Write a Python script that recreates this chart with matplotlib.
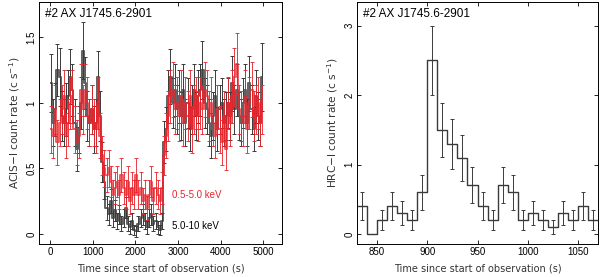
import numpy as np
import matplotlib
matplotlib.use('Agg')
import matplotlib.pyplot as plt

plt.rcParams['font.family'] = ['Liberation Sans', 'DejaVu Sans']

# ACIS-I light curve, 50 s bins
t_acis = np.arange(25, 5000, 50)
hard = [1.15, 0.85, 0.95, 1.25, 1.2, 0.9, 0.85, 0.95, 1.05, 1.2,
        1.1, 0.85, 0.65, 0.8, 1.0, 1.4, 1.15, 0.9, 0.85, 0.95,
        0.8, 0.85, 1.2, 0.9, 0.55, 0.4, 0.2, 0.15, 0.25, 0.12,
        0.18, 0.1, 0.15, 0.08, 0.12, 0.2, 0.08, 0.05, 0.1, 0.03,
        0.02, 0.08, 0.12, 0.15, 0.1, 0.05, 0.12, 0.15, 0.08, 0.1,
        0.05, 0.03, 0.1, 0.7, 0.8, 1.05, 1.2, 1.0, 1.1, 0.95,
        1.05, 0.9, 1.1, 0.85, 1.0, 0.8, 0.95, 1.1, 0.9, 1.05,
        1.1, 1.25, 1.0, 0.95, 0.85, 0.75, 0.9, 1.05, 0.8, 0.95,
        1.0, 0.85, 0.9, 1.0, 0.9, 1.15, 0.95, 1.1, 0.9, 0.85,
        1.0, 1.1, 0.85, 1.15, 0.95, 0.8, 1.05, 0.9, 0.85, 1.2]
hard_err = [0.22, 0.18, 0.2, 0.2, 0.22, 0.19, 0.18, 0.2, 0.2, 0.21,
            0.2, 0.18, 0.17, 0.18, 0.2, 0.22, 0.2, 0.19, 0.18, 0.19,
            0.18, 0.18, 0.2, 0.19, 0.15, 0.13, 0.09, 0.08, 0.09, 0.07,
            0.08, 0.06, 0.07, 0.06, 0.07, 0.08, 0.06, 0.05, 0.06, 0.04,
            0.04, 0.06, 0.07, 0.08, 0.06, 0.05, 0.07, 0.08, 0.06, 0.06,
            0.05, 0.04, 0.06, 0.16, 0.17, 0.2, 0.21, 0.19, 0.2, 0.19,
            0.2, 0.18, 0.2, 0.18, 0.19, 0.17, 0.19, 0.2, 0.18, 0.2,
            0.2, 0.22, 0.19, 0.19, 0.18, 0.17, 0.18, 0.2, 0.17, 0.19,
            0.19, 0.18, 0.18, 0.19, 0.18, 0.21, 0.19, 0.2, 0.18, 0.18,
            0.19, 0.2, 0.18, 0.21, 0.19, 0.17, 0.2, 0.18, 0.18, 0.26]
soft = [0.8, 0.75, 0.95, 0.7, 0.85, 0.95, 1.05, 0.75, 0.85, 1.0,
        1.05, 0.8, 0.7, 0.75, 1.1, 0.95, 1.1, 1.0, 0.85, 0.95,
        0.85, 0.8, 1.0, 0.75, 0.6, 0.5, 0.45, 0.5, 0.4, 0.3,
        0.35, 0.4, 0.3, 0.45, 0.35, 0.3, 0.4, 0.25, 0.35, 0.3,
        0.45, 0.3, 0.35, 0.25, 0.3, 0.2, 0.3, 0.4, 0.25, 0.35,
        0.3, 0.25, 0.35, 0.6, 0.75, 0.9, 1.05, 1.1, 0.95, 1.0,
        0.9, 1.05, 0.85, 1.0, 0.9, 1.05, 0.8, 0.95, 1.0, 0.9,
        1.0, 0.95, 1.1, 1.05, 0.9, 1.0, 0.85, 0.75, 0.95, 0.8,
        0.7, 0.9, 0.65, 1.0, 0.85, 1.05, 1.2, 1.3, 0.95, 0.9,
        0.85, 1.05, 0.8, 1.0, 1.1, 0.9, 0.95, 1.0, 0.85, 0.95]
soft_err = [0.18, 0.17, 0.19, 0.17, 0.18, 0.19, 0.2, 0.17, 0.18, 0.2,
            0.2, 0.18, 0.17, 0.17, 0.2, 0.19, 0.2, 0.2, 0.18, 0.19,
            0.18, 0.18, 0.2, 0.17, 0.15, 0.14, 0.13, 0.14, 0.12, 0.11,
            0.12, 0.12, 0.11, 0.13, 0.12, 0.11, 0.12, 0.1, 0.12, 0.11,
            0.13, 0.11, 0.12, 0.1, 0.11, 0.09, 0.11, 0.12, 0.1, 0.12,
            0.11, 0.1, 0.12, 0.15, 0.17, 0.19, 0.2, 0.21, 0.19, 0.2,
            0.19, 0.2, 0.18, 0.2, 0.19, 0.2, 0.18, 0.19, 0.2, 0.19,
            0.2, 0.19, 0.21, 0.2, 0.19, 0.2, 0.18, 0.17, 0.19, 0.18,
            0.17, 0.19, 0.16, 0.2, 0.18, 0.2, 0.22, 0.23, 0.19, 0.19,
            0.18, 0.2, 0.18, 0.2, 0.21, 0.19, 0.19, 0.2, 0.18, 0.19]

# HRC-I light curve, 10 s bins
t_hrc = np.arange(835, 1070, 10)
hrc = [0.4, 0.0, 0.2, 0.4, 0.3, 0.2, 0.6, 2.5, 1.5, 1.3, 1.1, 0.7,
       0.4, 0.2, 0.7, 0.6, 0.2, 0.3, 0.2, 0.1, 0.3, 0.2, 0.4, 0.2]
hrc_err = [0.2, 0.0, 0.14, 0.2, 0.17, 0.14, 0.25, 0.5, 0.39, 0.36, 0.33, 0.26,
           0.2, 0.14, 0.26, 0.25, 0.14, 0.17, 0.14, 0.1, 0.17, 0.14, 0.2, 0.14]

fig = plt.figure(figsize=(6, 2.77), dpi=100)
ax1 = fig.add_axes([39/600, 33/277, 243/600, 242/277])
ax2 = fig.add_axes([357/600, 33/277, 241/600, 242/277])

red = '#e8262e'
dark = '#3a3a3a'
lab_font = dict(family='DejaVu Sans', fontsize=7, color='#333333')
ylab_font = dict(family='DejaVu Sans', fontsize=7.6, color='#333333')

ax1.step(t_acis, hard, where='mid', color=dark, lw=1.4, alpha=0.8)
ax1.errorbar(t_acis, hard, yerr=hard_err, fmt='none', ecolor=dark, elinewidth=0.7,
             capsize=1.2, capthick=0.7)
ax1.step(t_acis, soft, where='mid', color=red, lw=1.4, alpha=0.75)
ax1.errorbar(t_acis, soft, yerr=soft_err, fmt='none', ecolor=red, elinewidth=0.7,
             capsize=1.2, capthick=0.7, alpha=0.9)
ax1.set_xlim(-258, 5440)
ax1.set_ylim(-0.076, 1.77)
ax1.set_xticks([0, 1000, 2000, 3000, 4000, 5000])
ax1.set_yticks([0, 0.5, 1, 1.5])
ax1.set_yticklabels(['0', '0.5', '1', '1.5'])
ax1.set_ylabel('ACIS\u2212I count rate (c s$^{-1}$)', labelpad=3, **ylab_font)
ax1.set_xlabel('Time since start of observation (s)', labelpad=5, **lab_font)
ax1.text(0.025, 0.975, '#2 AX J1745.6-2901', transform=ax1.transAxes,
         fontsize=8.5, va='top', ha='left')
ax1.text(2870, 0.3, '0.5-5.0 keV', color=red, fontsize=7, va='center')
ax1.text(2870, 0.06, '5.0-10 keV', color='black', fontsize=7, va='center')

ax2.step(t_hrc, hrc, where='mid', color=dark, lw=1.0)
ax2.plot([t_hrc[0] - 5, t_hrc[0]], [hrc[0], hrc[0]], color=dark, lw=1.0)
ax2.plot([t_hrc[-1], t_hrc[-1] + 5], [hrc[-1], hrc[-1]], color=dark, lw=1.0)
ax2.errorbar(t_hrc[np.array(hrc) > 0], np.array(hrc)[np.array(hrc) > 0],
             yerr=np.array(hrc_err)[np.array(hrc) > 0], fmt='none', ecolor=dark,
             elinewidth=0.7, capsize=1.5, capthick=0.7)
ax2.set_xlim(830, 1070)
ax2.set_ylim(-0.144, 3.34)
ax2.set_xticks([850, 900, 950, 1000, 1050])
ax2.set_yticks([0, 1, 2, 3])
ax2.set_ylabel('HRC\u2212I count rate (c s$^{-1}$)', labelpad=3, **ylab_font)
ax2.set_xlabel('Time since start of observation (s)', labelpad=5, **lab_font)
ax2.text(0.025, 0.975, '#2 AX J1745.6-2901', transform=ax2.transAxes,
         fontsize=8.5, va='top', ha='left')

for ax in (ax1, ax2):
    ax.tick_params(direction='in', top=True, right=True, labelsize=7,
                   length=3, width=0.6, pad=2)
    for lab in ax.get_yticklabels():
        lab.set_rotation(90)
        lab.set_va('center')
    for s in ax.spines.values():
        s.set_linewidth(0.7)

fig.savefig('out.png', dpi=100)
